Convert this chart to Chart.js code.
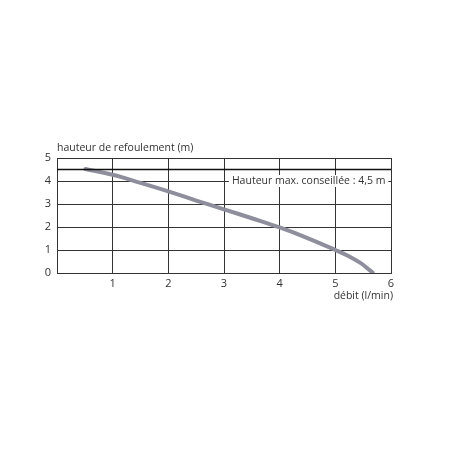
<!DOCTYPE html>
<html>
<head>
<meta charset="utf-8">
<script src="https://cdn.jsdelivr.net/npm/chart.js@4"></script>
<style>
  html, body { margin: 0; padding: 0; background: #fff; }
  #wrap { width: 450px; height: 450px; }
</style>
</head>
<body>
<div id="wrap"><canvas id="graficoCourbe"></canvas></div>
<script>
// courbe débit / hauteur
const debit = [0.51, 1, 1.5, 2, 2.5, 3, 3.5, 4, 4.5, 5, 5.25, 5.45, 5.6, 5.67];
const hauteur = [4.52, 4.27, 3.92, 3.55, 3.15, 2.77, 2.38, 1.98, 1.52, 1.0, 0.72, 0.44, 0.16, 0.02];
const hauteurMax = 4.5;
const xTicks = [0, 1, 2, 3, 4, 5, 6];
const yTicks = [0, 1, 2, 3, 4, 5];
const etiquetteMax = 'Hauteur max. conseillée : 4,5 m';
const titreY = 'hauteur de refoulement (m)';
const titreX = 'débit (l/min)';

const police = '"Open Sans", "DejaVu Sans", sans-serif';

const textes = {
    id: 'textes',
    afterDatasetsDraw(chart) {
        const ctx = chart.ctx;
        const x = chart.scales.x, y = chart.scales.y;
        ctx.save();
        ctx.font = '10.5px ' + police;
        ctx.textBaseline = 'middle';

        // etiquette de la hauteur max, posée sur la ligne 4
        const w = ctx.measureText(etiquetteMax).width;
        const cx = x.getPixelForValue(4.52);
        const cy = y.getPixelForValue(4);
        ctx.fillStyle = '#fff';
        ctx.fillRect(cx - w / 2 - 3, cy - 6, w + 6, 12);
        ctx.fillStyle = '#333';
        ctx.textAlign = 'center';
        ctx.fillText(etiquetteMax, cx, cy);

        // titres des axes
        ctx.textAlign = 'left';
        ctx.fillText(titreY, x.left, y.top - 10);
        ctx.textAlign = 'right';
        ctx.fillText(titreX, x.right + 2, y.bottom + 23);
        ctx.restore();
    }
};

new Chart(document.querySelector('#graficoCourbe'), {
    type: 'scatter',
    data: {
        datasets: [
            {
                data: [{x: xTicks[0], y: hauteurMax}, {x: xTicks[xTicks.length - 1], y: hauteurMax}],
                showLine: true,
                borderColor: '#111',
                borderWidth: 1.5,
                pointRadius: 0
            },
            {
                data: debit.map((d, i) => ({x: d, y: hauteur[i]})),
                showLine: true,
                borderColor: '#8e8e9c',
                borderWidth: 4,
                borderCapStyle: 'round',
                pointRadius: 0,
                tension: 0.4
            }
        ]
    },
    options: {
        responsive: true,
        maintainAspectRatio: false,
        animation: false,
        layout: { padding: { top: 158, right: 59, bottom: 0, left: 0 } },
        plugins: { legend: { display: false }, tooltip: { enabled: false } },
        scales: {
            x: {
                type: 'linear',
                min: xTicks[0],
                max: xTicks[xTicks.length - 1],
                afterBuildTicks: s => { s.ticks = xTicks.map(v => ({value: v})); },
                afterFit: s => { s.height = 177; },
                grid: { color: '#333', lineWidth: 1, drawTicks: false },
                border: { color: '#333', width: 1 },
                ticks: {
                    padding: 4,
                    color: '#333',
                    font: { size: 11, family: police },
                    callback: v => v === 0 ? '' : String(v)
                }
            },
            y: {
                min: yTicks[0],
                max: yTicks[yTicks.length - 1],
                afterBuildTicks: s => { s.ticks = yTicks.map(v => ({value: v})); },
                afterFit: s => { s.width = 57; },
                grid: { color: '#333', lineWidth: 1, drawTicks: false },
                border: { color: '#333', width: 1 },
                ticks: {
                    padding: 6,
                    color: '#333',
                    font: { size: 11, family: police }
                }
            }
        }
    },
    plugins: [textes]
});
</script>
</body>
</html>
